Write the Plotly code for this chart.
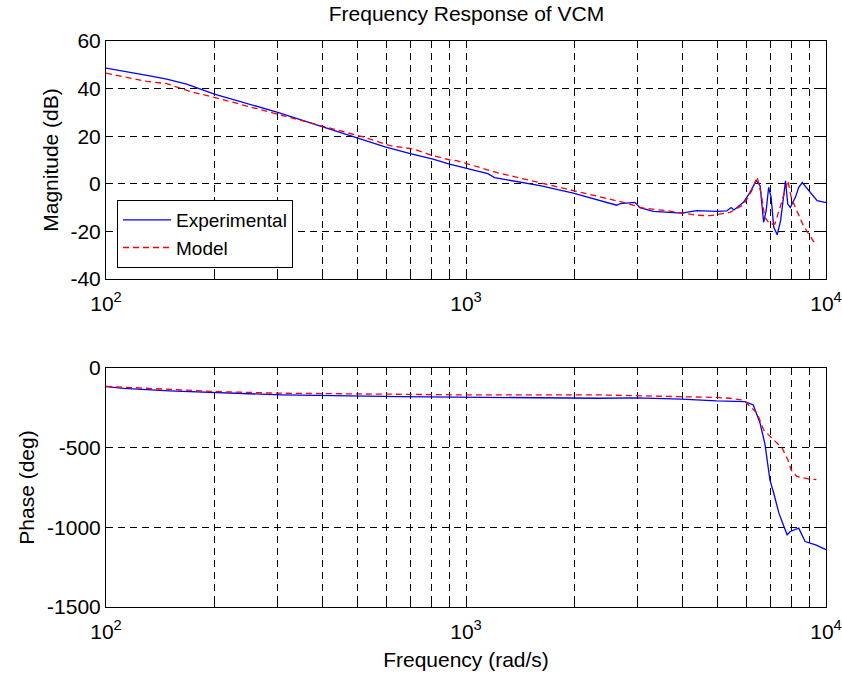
import plotly.graph_objects as go

# ---------------- data ----------------
exp_mag_f = [100, 112, 130, 147.5, 167.5, 200, 250, 300, 350, 400, 500, 596, 700, 810, 900,
             1000, 1150, 1200, 1443, 1606, 1986, 2355, 2622, 2682, 2946, 3041, 3313, 3972,
             4370, 4966, 5300, 5450, 5550, 5900, 6150, 6400, 6560, 6710, 6820, 6930, 7040,
             7160, 7320, 7480, 7640, 7720, 7830, 7960, 8220, 8400, 8590, 8960, 9450, 9930, 10000]
exp_mag_db = [48.6, 47.4, 45.6, 44.0, 41.9, 37.7, 33.5, 30.0, 26.8, 24.0, 19.2, 15.5, 12.7, 10.4, 8.3,
              6.6, 4.3, 2.6, 0.5, -0.8, -3.9, -7.1, -9.0, -8.3, -7.8, -10.0, -11.6, -12.3,
              -11.3, -11.6, -11.4, -10.0, -11.0, -7.8, -3.6, 1.3, -0.8, -16.2, -11.3, -1.5, -5.7,
              -18.3, -21.4, -15.5, -2.9, 1.3, -8.5, -10.0, -5.7, -1.5, 0.5, -2.9, -7.1, -7.8, -7.8]

mod_mag_f = [100, 113, 130, 147.5, 171, 200, 226, 300, 400, 518, 616, 715, 810, 903, 943, 1070,
             1220, 1641, 2162, 2737, 3105, 3607, 4370, 4763, 5412, 5900, 6220, 6440, 6610,
             6760, 6990, 7210, 7450, 7690, 7840, 8000, 8290, 8650, 9400]
mod_mag_db = [46.5, 45.0, 43.0, 42.1, 38.8, 36.3, 34.2, 29.3, 24.4, 19.7, 16.0, 14.6, 11.8, 10.0, 9.7, 7.1,
              4.7, 0.1, -4.1, -7.8, -10.2, -11.3, -13.2, -13.4, -12.0, -8.8, -2.9, 2.9, -4.3,
              -14.1, -16.9, -16.9, -10.0, -2.9, 1.3, -5.7, -11.3, -17.6, -26.0]

exp_ph_f = [100, 112, 150, 200, 221, 307, 655, 1000, 1800, 2355, 2980, 3972, 4966, 5957, 6280,
            6560, 6770, 6870, 6985, 7160, 7400, 7640, 7800, 7960, 8400, 8750, 9360, 9930, 10000]
exp_ph_deg = [-117, -128, -144, -153, -159, -169, -180, -184, -186, -190, -188, -196, -207, -211, -232,
              -347, -480, -577, -702, -786, -911, -995, -1047, -1026, -1005, -1089, -1110, -1137, -1140]

mod_ph_f = [100, 200, 300, 600, 1000, 2355, 3500, 4966, 5400, 5900, 6440, 6710, 6930, 7560,
            7840, 8000, 8290, 9040, 9400]
mod_ph_deg = [-115, -148, -158, -165, -169, -169, -175, -185, -190, -201, -284, -389, -420, -504,
              -577, -640, -681, -698, -700]

x_tick_vals = [100, 1000, 10000]
x_tick_text = ["10<sup>2</sup>", "10<sup>3</sup>", "10<sup>4</sup>"]
minor_ticks = [200, 300, 400, 500, 600, 700, 800, 900, 2000, 3000, 4000, 5000, 6000, 7000, 8000, 9000]
mag_tick_vals = [-40, -20, 0, 20, 40, 60]
mag_tick_text = ["-40", "-20", "0", "20", "40", "60"]
ph_tick_vals = [-1500, -1000, -500, 0]
ph_tick_text = ["-1500", "-1000", "-500", "0"]

# ---------------- figure ----------------
FONT = "Liberation Sans, Arial, sans-serif"
FS = 21
BLUE = "#0000ff"
RED = "#ff0000"
DASH = "6px,4px"
GRID_DASH = "7px,5px"

fig = go.Figure()
fig.add_trace(go.Scatter(x=exp_mag_f, y=exp_mag_db, mode="lines", name="Experimental",
                         line=dict(color=BLUE, width=1.3), xaxis="x", yaxis="y"))
fig.add_trace(go.Scatter(x=mod_mag_f, y=mod_mag_db, mode="lines", name="Model",
                         line=dict(color=RED, width=1.3, dash=DASH), xaxis="x", yaxis="y"))
fig.add_trace(go.Scatter(x=exp_ph_f, y=exp_ph_deg, mode="lines", name="Experimental", showlegend=False,
                         line=dict(color=BLUE, width=1.3), xaxis="x2", yaxis="y2"))
fig.add_trace(go.Scatter(x=mod_ph_f, y=mod_ph_deg, mode="lines", name="Model", showlegend=False,
                         line=dict(color=RED, width=1.3, dash=DASH), xaxis="x2", yaxis="y2"))

def xax(anchor, title=None):
    d = dict(type="log", range=[2, 4], anchor=anchor, domain=[0, 1],
             tickvals=x_tick_vals, ticktext=x_tick_text, ticklabelstandoff=6,
             showgrid=True, gridcolor="black", griddash=GRID_DASH, gridwidth=1,
             showline=True, linecolor="black", linewidth=1, mirror="allticks",
             ticks="inside", ticklen=6, tickcolor="black",
             tickfont=dict(family=FONT, size=FS, color="black"),
             minor=dict(tickvals=minor_ticks, showgrid=True, gridcolor="black",
                        griddash=GRID_DASH, gridwidth=1, ticks="inside", ticklen=5,
                        tickcolor="black"),
             zeroline=False, automargin=False)
    if title:
        d["title"] = dict(text=title, font=dict(family=FONT, size=FS, color="black"), standoff=10)
    return d

def yax(anchor, domain, rng, vals, text, title):
    return dict(range=rng, tickvals=vals, ticktext=text, anchor=anchor, domain=domain,
                showgrid=True, gridcolor="black", griddash=GRID_DASH, gridwidth=1,
                showline=True, linecolor="black", linewidth=1, mirror="allticks",
                ticks="inside", ticklen=6, tickcolor="black",
                tickfont=dict(family=FONT, size=FS, color="black"),
                zeroline=False, automargin=False,
                title=dict(text=title, font=dict(family=FONT, size=FS, color="black"), standoff=6))

fig.update_layout(
    width=842, height=681,
    margin=dict(l=106, r=16, t=41, b=74),
    paper_bgcolor="white", plot_bgcolor="white",
    font=dict(family=FONT, size=FS, color="black"),
    title=dict(text="Frequency Response of VCM", x=0.554, xanchor="center",
               y=1 - 14 / 681, yanchor="middle", yref="container",
               font=dict(family=FONT, size=FS, color="black")),
    xaxis=xax("y"),
    yaxis=yax("x", [0.5795, 1], [-40, 60], mag_tick_vals, mag_tick_text, "Magnitude (dB)"),
    xaxis2=xax("y2", "Frequency (rad/s)"),
    yaxis2=yax("x2", [0, 0.4223], [-1500, 0], ph_tick_vals, ph_tick_text, "Phase (deg)"),
    legend=dict(x=0.0153, y=0.599, xanchor="left", yanchor="bottom",
                bgcolor="white", bordercolor="black", borderwidth=1,
                font=dict(family=FONT, size=19, color="black"),
                tracegroupgap=0, itemwidth=48),
    showlegend=True,
)

fig.write_html("out.html")
